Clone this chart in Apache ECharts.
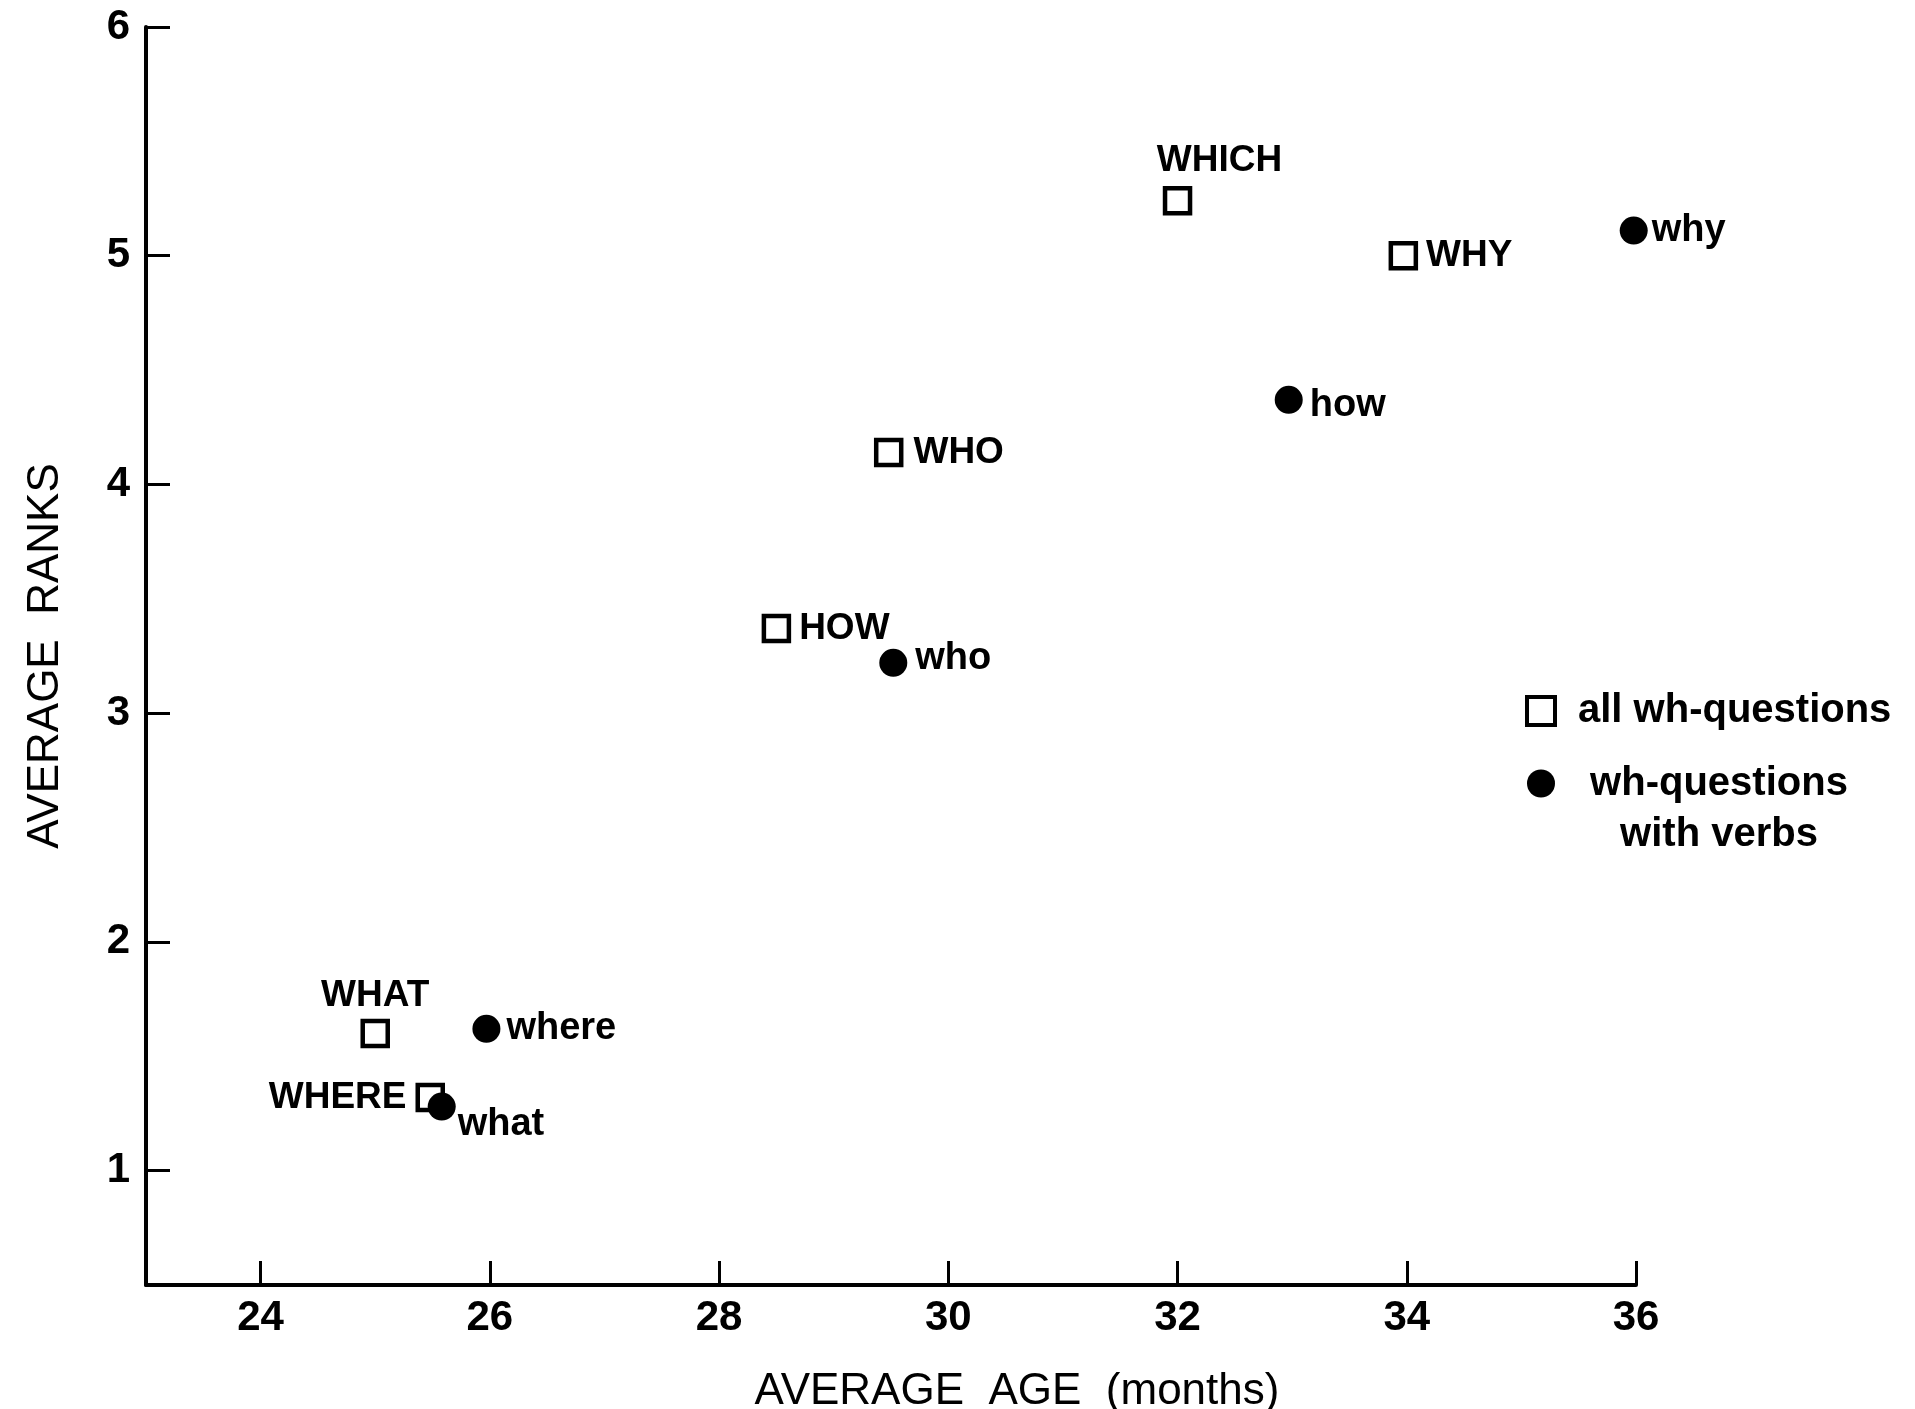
<!DOCTYPE html>
<html>
<head>
<meta charset="utf-8">
<script src="https://cdn.jsdelivr.net/npm/echarts@6/dist/echarts.min.js"></script>
<style>
html,body{margin:0;padding:0;background:#fff;}
#chart{width:1915px;height:1409px;}
</style>
</head>
<body>
<div id="chart"></div>
<script>
// ---- data ----
const allNames = ['WHAT', 'WHERE', 'HOW', 'WHO', 'WHICH', 'WHY'];
const allAge   = [25.0, 25.48, 28.5, 29.48, 32.0, 33.97];
const allRank  = [1.60, 1.32, 3.37, 4.14, 5.24, 5.00];

const verbNames = ['where', 'what', 'who', 'how', 'why'];
const verbAge   = [25.97, 25.58, 29.52, 32.97, 35.98];
const verbRank  = [1.62, 1.28, 3.22, 4.37, 5.11];

const xTicks = [24, 26, 28, 30, 32, 34, 36];
const yTicks = [1, 2, 3, 4, 5, 6];

const seriesNames = ['all wh-questions', 'wh-questions with verbs'];
const xTitle = 'AVERAGE  AGE  (months)';
const yTitle = 'AVERAGE  RANKS';

// ---- label placement (style only) ----
const labelStyle = {
  WHAT:  {position: 'top', distance: 4},
  WHERE: {position: 'left', distance: 9},
  HOW:   {position: 'right', distance: 8},
  WHO:   {position: 'right', distance: 10},
  WHICH: {position: [-6, -25], align: 'left', verticalAlign: 'middle'},
  WHY:   {position: 'right', distance: 8},
  where: {position: 'right', distance: 6},
  what:  {position: [30, 32], align: 'left', verticalAlign: 'middle'},
  who:   {position: 'right', distance: 8, offset: [0, -4]},
  how:   {position: 'right', distance: 7, offset: [0, 6]},
  why:   {position: 'right', distance: 4}
};

const upperFont = {fontFamily: 'Liberation Sans', fontSize: 37, fontWeight: 'bold', color: '#000'};
const lowerFont = {fontFamily: 'Liberation Sans', fontSize: 38, fontWeight: 'bold', color: '#000'};

function build(names, xs, ys, font) {
  return names.map((n, i) => ({
    name: n,
    value: [xs[i], ys[i]],
    label: Object.assign({show: true, formatter: n}, font, labelStyle[n])
  }));
}

const chart = echarts.init(document.getElementById('chart'), null, {renderer: 'canvas'});

const axisLine = {show: true, lineStyle: {color: '#000', width: 4}};
const tickStyle = {show: true, inside: true, length: 24, lineStyle: {color: '#000', width: 3}};
const tickFont = {color: '#000', fontFamily: 'Liberation Sans', fontSize: 42, fontWeight: 'bold'};

chart.setOption({
  animation: false,
  backgroundColor: '#fff',
  grid: {left: 146, right: 279, top: 27, bottom: 124, containLabel: false, outerBoundsMode: 'none'},
  xAxis: {
    type: 'value', min: 23, max: 36,
    axisLine: axisLine,
    axisTick: Object.assign({}, tickStyle, {customValues: xTicks}),
    axisLabel: Object.assign({}, tickFont, {customValues: xTicks, margin: 12}),
    splitLine: {show: false},
    name: xTitle, nameLocation: 'middle', nameGap: 85,
    nameTextStyle: {fontFamily: 'Liberation Sans', fontSize: 44, color: '#000', padding: [0, 0, 0, 252]}
  },
  yAxis: {
    type: 'value', min: 0.5, max: 6,
    axisLine: axisLine,
    axisTick: Object.assign({}, tickStyle, {customValues: yTicks}),
    axisLabel: Object.assign({}, tickFont, {customValues: yTicks, margin: 16}),
    splitLine: {show: false},
    name: yTitle, nameLocation: 'middle', nameGap: 78,
    nameTextStyle: {fontFamily: 'Liberation Sans', fontSize: 44, color: '#000'}
  },
  legend: {
    orient: 'vertical', left: 1520, top: 684, itemGap: -26,
    itemWidth: 28, itemHeight: 28,
    itemStyle: {opacity: 1},
    textStyle: {
      fontFamily: 'Liberation Sans', fontSize: 40, fontWeight: 'bold', color: '#000', lineHeight: 44, padding: [0, 0, 0, 18],
      rich: {c: {width: 282, align: 'center', fontFamily: 'Liberation Sans', fontSize: 40, fontWeight: 'bold', lineHeight: 51, color: '#000'}}
    },
    data: [
      {name: seriesNames[0], icon: 'rect', itemStyle: {color: '#fff', borderColor: '#000', borderWidth: 4, opacity: 1}},
      {name: seriesNames[1], icon: 'circle', textStyle: {padding: [51, 0, 0, 18], lineHeight: 51}}
    ],
    formatter: function (n) {
      if (n === seriesNames[1]) return '{c|wh-questions}\n{c|with verbs}';
      return n;
    },
    selectedMode: false
  },
  series: [
    {
      name: seriesNames[0], type: 'scatter', symbol: 'rect', symbolSize: 25,
      itemStyle: {color: '#fff', borderColor: '#000', borderWidth: 4.5, opacity: 1},
      emphasis: {disabled: true},
      clip: false,
      data: build(allNames, allAge, allRank, upperFont)
    },
    {
      name: seriesNames[1], type: 'scatter', symbol: 'circle', symbolSize: 28,
      itemStyle: {color: '#000', opacity: 1},
      emphasis: {disabled: true},
      clip: false,
      data: build(verbNames, verbAge, verbRank, lowerFont)
    }
  ]
});
</script>
</body>
</html>
